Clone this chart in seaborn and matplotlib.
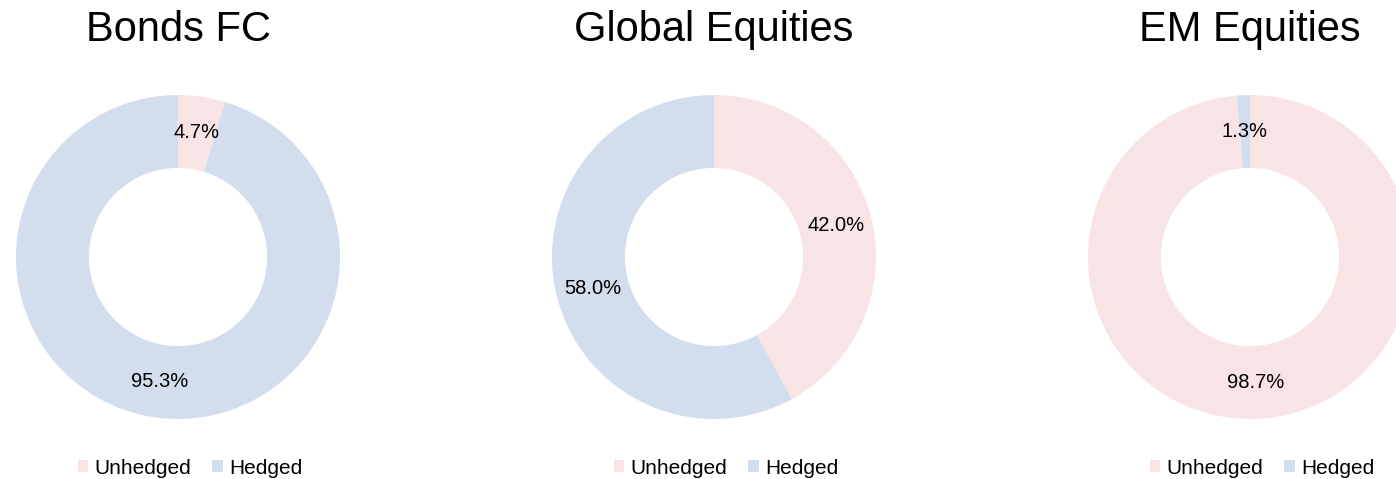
import matplotlib
matplotlib.use("Agg")
import matplotlib.pyplot as plt
from matplotlib.patches import Patch
import seaborn as sns

titles = ["Bonds FC", "Global Equities", "EM Equities"]
categories = ["Unhedged", "Hedged"]
unhedged = [4.7, 42.0, 98.7]
hedged = [95.3, 58.0, 1.3]
colors = ["#F9E4E5", "#D2DDEE"]

sns.set_theme(style="white")
plt.rcParams['font.family'] = ['Liberation Sans', 'DejaVu Sans']
plt.rcParams['text.color'] = 'black'

W, H = 1396, 479
fig = plt.figure(figsize=(W / 100, H / 100), dpi=100)
fig.patch.set_facecolor("white")

centers_x = [178, 714, 1250]
cy = 257
R = 162
for i, t in enumerate(titles):
    cx = centers_x[i]
    ax = fig.add_axes([(cx - R) / W, (H - cy - R) / H, 2 * R / W, 2 * R / H])
    vals = [unhedged[i], hedged[i]]
    ax.pie(vals, colors=colors, startangle=90, counterclock=False,
           autopct="%.1f%%", pctdistance=0.775,
           wedgeprops=dict(width=0.45, edgecolor="none"),
           textprops=dict(fontsize=14.5, color="black"))
    ax.set_xlim(-1, 1)
    ax.set_ylim(-1, 1)
    ax.set_aspect("equal")
    ax.axis("off")
    fig.text(cx / W, 1 - 30 / H, t, ha="center", va="center", fontsize=30, color="black")
    handles = [Patch(facecolor=c, edgecolor="none") for c in colors]
    fig.legend(handles, categories, loc="center", bbox_to_anchor=((cx + 12) / W, 1 - 468 / H),
               ncol=2, frameon=False, fontsize=15, handlelength=0.5, handleheight=0.5,
               handletextpad=0.3, columnspacing=1.0, labelcolor="black")

fig.savefig("out.png", dpi=100, facecolor="white")
